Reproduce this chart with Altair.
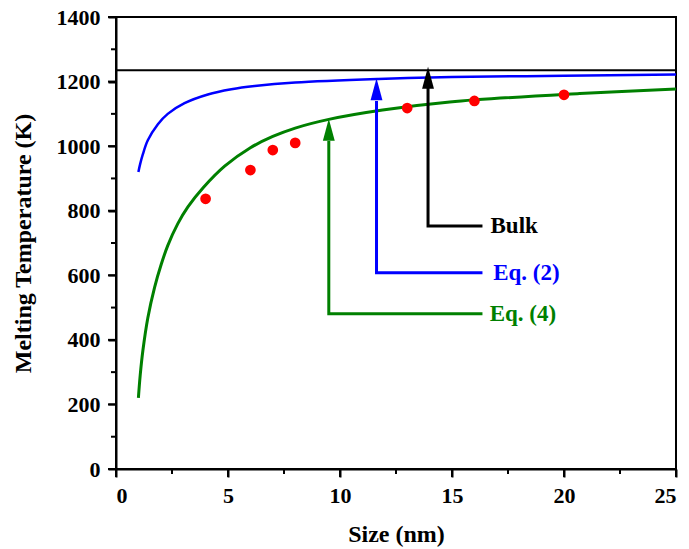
import altair as alt
import pandas as pd

FONT = "Liberation Serif"

# Eq. (2) curve (blue)
eq2_size = [1.0, 1.08, 1.2, 1.42, 1.87, 2.31, 3.06, 4.1, 5.15, 6.19, 8.0, 11.7, 15.0, 20.0, 25.0]
eq2_temp = [920, 945, 975, 1018, 1068, 1100, 1133, 1160, 1176, 1186, 1197, 1208, 1214, 1218, 1222]

# Eq. (4) curve (green)
eq4_size = [1.0, 1.08, 1.2, 1.42, 1.72, 2.02, 2.31, 2.76, 3.21, 3.9, 4.85, 6.0, 7.0, 8.0, 9.5, 11.9, 14.9, 20.7, 25.0]
eq4_temp = [220, 290, 367, 468, 562, 634, 692, 760, 812, 872, 938, 995, 1030, 1056, 1083, 1112, 1137, 1163, 1177]

# Experimental points (red)
exp_size = [4, 6, 7, 8, 13, 16, 20]
exp_temp = [837, 926, 988, 1010, 1118, 1140, 1159]

# Bulk melting temperature
bulk_temp = 1235

# Axis ticks
x_major = [0, 5, 10, 15, 20, 25]
x_minor = [2.5, 7.5, 12.5, 17.5, 22.5]
y_major = [0, 200, 400, 600, 800, 1000, 1200, 1400]
y_minor = [100, 300, 500, 700, 900, 1100, 1300]

# Arrow annotations
arrow_names = ["Bulk", "Eq. (2)", "Eq. (4)"]
arrow_colors = ["#000000", "#0000FF", "#008000"]
arrow_x = [13.93, 11.63, 9.5]
arrow_tip = [1246, 1210, 1085]
arrow_base = [1184, 1140, 1016]
arrow_elbow = [753, 608, 481]
arrow_end_x = [16.36, 16.36, 16.36]
label_x = [16.72, 16.84, 16.68]

x_scale = alt.Scale(domain=[0, 25], nice=False, zero=False)
y_scale = alt.Scale(domain=[0, 1400], nice=False, zero=False)

x_axis = alt.Axis(
    title="Size (nm)", values=x_major, format="d", ticks=True,
    tickSize=8, labelPadding=8, titlePadding=16, grid=False,
)
y_axis = alt.Axis(
    title="Melting Temperature (K)", values=y_major, format="d", ticks=True,
    tickSize=8, labelPadding=8, titlePadding=21, grid=False,
)

df_eq2 = pd.DataFrame({"size": eq2_size, "temp": eq2_temp})
df_eq4 = pd.DataFrame({"size": eq4_size, "temp": eq4_temp})
df_exp = pd.DataFrame({"size": exp_size, "temp": exp_temp})
df_bulk = pd.DataFrame({"temp": [bulk_temp]})
df_xminor = pd.DataFrame({"size": x_minor})
df_yminor = pd.DataFrame({"temp": y_minor})
df_xmajor = pd.DataFrame({"size": x_major})
df_ymajor = pd.DataFrame({"temp": y_major})

rows = []
for n, c, ax, base, elb, ex in zip(arrow_names, arrow_colors, arrow_x, arrow_base, arrow_elbow, arrow_end_x):
    rows.append({"name": n, "color": c, "order": 0, "size": ex, "temp": elb})
    rows.append({"name": n, "color": c, "order": 1, "size": ax, "temp": elb})
    rows.append({"name": n, "color": c, "order": 2, "size": ax, "temp": base})
df_arrows = pd.DataFrame(rows)
df_heads = pd.DataFrame({"name": arrow_names, "color": arrow_colors, "size": arrow_x, "temp": arrow_tip})
df_labels = pd.DataFrame({"name": arrow_names, "color": arrow_colors, "size": label_x, "temp": arrow_elbow})

X = alt.X("size:Q", scale=x_scale, axis=x_axis)
Y = alt.Y("temp:Q", scale=y_scale, axis=y_axis)

H = 452

bulk = alt.Chart(df_bulk).mark_rule(color="black", strokeWidth=2).encode(y=Y)

eq2 = alt.Chart(df_eq2).mark_line(color="#0000FF", strokeWidth=2.5, interpolate="catmull-rom").encode(x=X, y=Y)
eq4 = alt.Chart(df_eq4).mark_line(color="#008000", strokeWidth=3, interpolate="catmull-rom").encode(x=X, y=Y)
exp = alt.Chart(df_exp).mark_circle(color="#FF0000", size=115, opacity=1).encode(x=X, y=Y)

xminor = alt.Chart(df_xminor).mark_rule(color="black", strokeWidth=2).encode(
    x=X, y=alt.value(H), y2=alt.value(H + 5)
)
yminor = alt.Chart(df_yminor).mark_rule(color="black", strokeWidth=2).encode(
    y=Y, x=alt.value(0), x2=alt.value(-5)
)
xmajor = alt.Chart(df_xmajor).mark_rule(color="black", strokeWidth=2).encode(
    x=X, y=alt.value(H), y2=alt.value(H + 8)
)
ymajor = alt.Chart(df_ymajor).mark_rule(color="black", strokeWidth=2).encode(
    y=Y, x=alt.value(0), x2=alt.value(-8)
)

arrows = alt.Chart(df_arrows).mark_line(strokeWidth=3, strokeJoin="miter", strokeCap="butt").encode(
    x=X, y=Y, detail="name:N", order="order:Q",
    color=alt.Color("color:N", scale=None),
)
heads = alt.Chart(df_heads).mark_point(
    shape="M0,0 L0.27,1 L-0.27,1 Z", size=1936, filled=True, opacity=1, strokeWidth=0
).encode(x=X, y=Y, color=alt.Color("color:N", scale=None))
labels = alt.Chart(df_labels).mark_text(
    align="left", baseline="middle", font=FONT, fontWeight="bold", fontSize=23
).encode(x=X, y=Y, text="name:N", color=alt.Color("color:N", scale=None))

chart = alt.layer(
    bulk, eq2, eq4, exp, xminor, yminor, xmajor, ymajor, arrows, heads, labels
).properties(
    width=560, height=H,
    autosize="none",
    padding={"left": 116, "top": 17, "right": 13, "bottom": 80},
).configure_view(stroke="black", strokeWidth=2).configure_axis(
    domainColor="black", domainWidth=2, tickColor="black", tickWidth=2,
    labelFont=FONT, labelFontWeight="bold", labelFontSize=22, labelColor="black",
    titleFont=FONT, titleFontWeight="bold", titleFontSize=24, titleColor="black",
)

chart.save("out.html", embed_options={"renderer": "svg", "actions": False})
